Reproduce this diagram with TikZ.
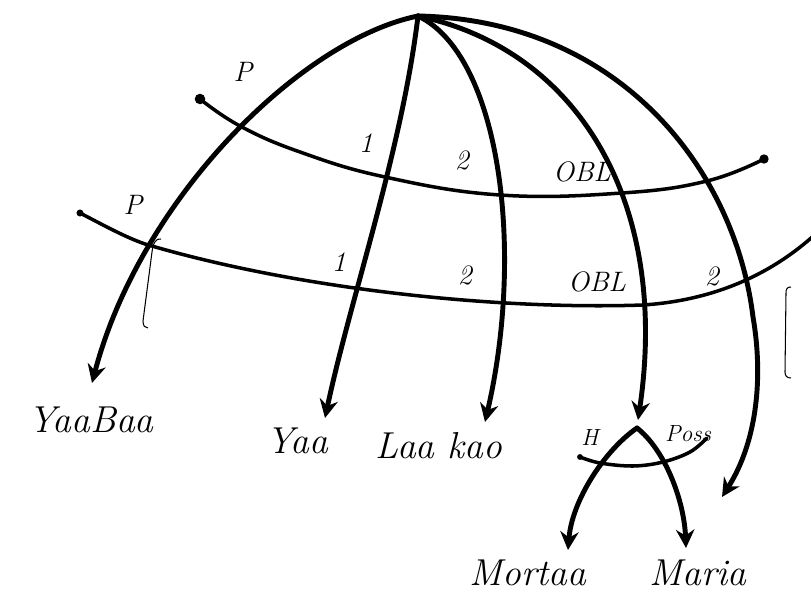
\documentclass[tikz,border=0pt]{standalone}
\usepackage{tikz}
\usetikzlibrary{arrows.meta}

\begin{document}
\begin{tikzpicture}[
      x=0.03cm, y=-0.03cm,
      branch/.style={line width=4.2pt, line cap=round},
      tie/.style={line width=3pt, line cap=round},
      hook/.style={line width=0.9pt},
      word/.style={font=\fontsize{32}{36}\selectfont\itshape, inner sep=0pt, anchor=base},
      rel/.style={font=\fontsize{24}{28}\selectfont\itshape, inner sep=0pt},
      tiny/.style={font=\fontsize{20}{22}\selectfont\itshape, inner sep=0pt},
      >={Stealth[length=5.5mm, width=5.5mm]}
    ]
    \useasboundingbox (0,0) rectangle (811,599);

    % --- root and words ----------------------------------------------------
    \coordinate (top) at (418,16);
    \node[word] (yaabaa) at (91,432)  {YaaBaa};
    \node[word] (yaa)    at (297,453) {Yaa};
    \node[word] (laakao) at (439,458) {Laa kao};
    \node[word] (mortaa) at (528,585) {Mortaa};
    \node[word] (maria)  at (698,585) {Maria};
    \coordinate (and)  at (637,428);
    \coordinate (free) at (722,497);

    % --- the two rows crossing the branches --------------------------------
    \draw[tie] plot[smooth, tension=0.7] coordinates
          {(200,99) (240,126) (300,152) (385,177) (500,195) (622,193) (707,181) (764,159)};
    \draw[tie] (80,213) .. controls (105,226) and (125,237) .. (145,244)
               .. controls (300,290) and (500,310) .. (643,305)
               .. controls (720,300) and (780,270) .. (825,225);
    \fill (200,99) circle[radius=4.5pt];
    \fill (764,159) circle[radius=4pt];
    \fill (80,213) circle[radius=3pt];

    % --- branches from the root --------------------------------------------
    \draw[branch, ->] (top) .. controls (300,40) and (140,200) .. ([shift={(1,-49)}]yaabaa.base);
    \draw[branch, ->] (top) .. controls (402,150) and (350,300) .. ([shift={(28,-35)}]yaa.base);
    \draw[branch, ->] (top) .. controls (500,55) and (525,250) .. ([shift={(46,-36)}]laakao.base);
    \draw[branch, ->] (top) .. controls (580,50) and (670,205) .. ([shift={(1,-8)}]and);
    \draw[branch, ->] (top) .. controls (620,20) and (735,170) .. (753,317)
                       .. controls (763,375) and (758,440) .. (free);

    % --- labels on the rows ------------------------------------------------
    \node[rel] (pu)   at (243,72)  {P};
    \node[rel] (pl)   at (133,205) {P};
    \node[rel] (oneu) at (366,143) {1};
    \node[rel] (onel) at (339,262) {1};
    \node[rel] (twou) at (462,160) {2};
    \node[rel] (twol) at (465,275) {2};
    \node[rel] (oblu) at (582,172) {OBL};
    \node[rel] (obll) at (597,282) {OBL};
    \node[rel] (twor) at (712,276) {2};

    % --- the and-node below ------------------------------------------------
    \draw[tie] plot[smooth, tension=0.6] coordinates
          {(580,457) (600,463) (633,466) (663,462) (690,452) (707,438)};
    \fill (580,457) circle[radius=2.5pt];
    \draw[branch, ->] (and) .. controls (605,450) and (572,500) .. ([shift={(40,-35)}]mortaa.base);
    \draw[branch, ->] (and) .. controls (665,450) and (684,500) .. ([shift={(-12,-37)}]maria.base);
    \node[tiny] (h)    at (590,437) {H};
    \node[tiny] (poss) at (688,434) {Poss};

    % --- brackets ----------------------------------------------------------
    \draw[hook] (161,239) .. controls (156,238) and (153,243) .. (152,252)
                -- (143,321) .. controls (143,326) and (145,328) .. (148,328);
    \draw[hook] (791,287) .. controls (787,287) and (786,289) .. (786,293)
                -- (785,372) .. controls (785,376) and (787,378) .. (791,378);
  \end{tikzpicture}
\end{document}
